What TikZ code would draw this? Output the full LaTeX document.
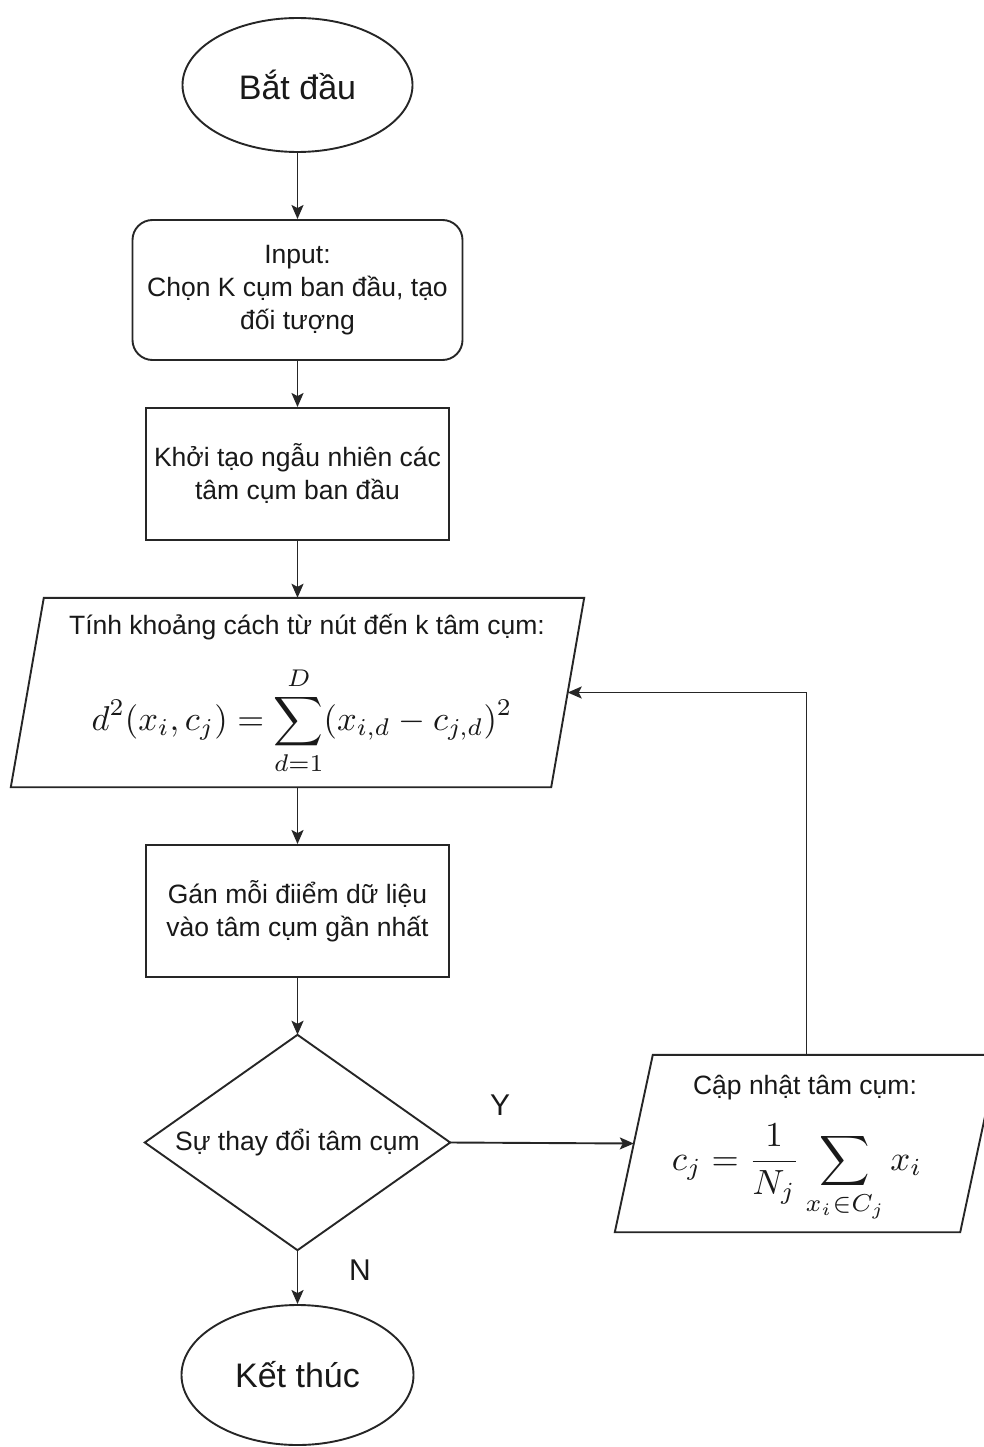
\documentclass[tikz,border=0pt]{standalone}
\usepackage{amsmath}
\usepackage{graphicx}
\usepackage{fontspec}
\setmainfont{Liberation Sans}
\usetikzlibrary{arrows.meta,calc,shapes.geometric}

\begin{document}
\begin{tikzpicture}[x=1pt,y=-1pt,
  arr/.style={draw=black!85, line width=1.9pt, -{Stealth[length=14pt,width=12pt,inset=3pt]}},
  shp/.style={draw=black!85, line width=1.9pt, fill=white},
  txt/.style={font=\fontsize{26.5}{33}\selectfont, align=center, text=black!90, inner sep=2pt},
  onetxt/.style={font=\fontsize{26.5}{33}\selectfont, text=black!90, inner sep=0pt},
  bigtxt/.style={font=\fontsize{34}{40}\selectfont, text=black!90},
  mth/.style={text=black!90, inner sep=0pt},
  lbl/.style={font=\fontsize{30}{36}\selectfont, text=black!90},
  blank/.style={inner sep=0pt}
]
\useasboundingbox (0,0) rectangle (983,1447);

% Start
\node[ellipse, shp, minimum width=230pt, minimum height=134pt, inner sep=0pt, bigtxt] (start) at (297.5,85) {Bắt đầu};

% Input
\node[shp, rounded corners=20pt, minimum width=330pt, minimum height=140pt, txt] (input) at (297.5,290) {Input:\\Chọn K cụm ban đầu, tạo\\đối tượng};

% Init
\node[shp, minimum width=303pt, minimum height=132pt, txt] (init) at (297.5,474) {Khởi tạo ngẫu nhiên các\\tâm cụm ban đầu};

% Distance parallelogram
\node[blank, minimum width=540pt, minimum height=189pt] (dist) at (297.5,692.5) {};
\draw[shp] ($(dist.south west)+(-16.5,0)$) -- ($(dist.north west)+(16.5,0)$) -- ($(dist.north east)+(16.5,0)$) -- ($(dist.south east)+(-16.5,0)$) -- cycle;
\node[onetxt] (distT) at (307,627) {Tính khoảng cách từ nút đến k tâm cụm:};
\node[mth] (distF) at (302,721) {\scalebox{3.45}{$\displaystyle d^2(x_i,c_j)=\sum_{d=1}^{D}(x_{i,d}-c_{j,d})^2$}};

% Assign
\node[shp, minimum width=303pt, minimum height=132pt, txt] (assign) at (297.5,911) {Gán mỗi điiểm dữ liệu\\vào tâm cụm gần nhất};

% Decision
\node[blank, minimum width=305pt, minimum height=215pt] (dec) at (297.5,1142.5) {};
\draw[shp] (dec.north) -- (dec.east) -- (dec.south) -- (dec.west) -- cycle;
\node[txt] (decT) at (dec.center) {Sự thay đổi tâm cụm};

% Update parallelogram
\node[blank, minimum width=345pt, minimum height=177pt] (upd) at (806.5,1143.5) {};
\draw[shp] ($(upd.south west)+(-19,0)$) -- ($(upd.north west)+(19,0)$) -- ($(upd.north east)+(19,0)$) -- ($(upd.south east)+(-19,0)$) -- cycle;
\node[onetxt] (updT) at (805,1088) {Cập nhật tâm cụm:};
\node[mth] (updF) at (797,1173) {\scalebox{3.5}{$\displaystyle c_j=\frac{1}{N_j}\sum_{x_i\in C_j}x_i$}};

% End
\node[ellipse, shp, minimum width=232pt, minimum height=140pt, inner sep=0pt, bigtxt] (stop) at (297.5,1375) {Kết thúc};

% Connectors
\draw[arr] (start.south) -- (input.north);
\draw[arr] (input.south) -- (init.north);
\draw[arr] (init.south) -- (dist.north);
\draw[arr] (dist.south) -- (assign.north);
\draw[arr] (assign.south) -- (dec.north);
\draw[arr] (dec.east) -- (upd.west);
\draw[arr] (dec.south) -- (stop.north);
\draw[arr] (upd.north) |- (dist.east);

% Labels
\node[lbl] (lY) at (500,1105) {Y};
\node[lbl] (lN) at (360,1270) {N};
\end{tikzpicture}
\end{document}
